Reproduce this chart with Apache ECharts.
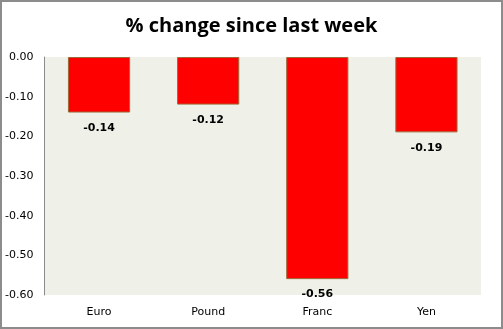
<!DOCTYPE html>
<html><head><meta charset="utf-8">
<script src="https://cdn.jsdelivr.net/npm/echarts@6/dist/echarts.min.js"></script>
<style>
html,body{margin:0;padding:0;background:#fff;}
#c{width:503px;height:329px;box-sizing:border-box;border:2px solid #8c8c8c;}
</style></head>
<body><div id="c"></div>
<script>
const categories = ["Euro", "Pound", "Franc", "Yen"];
const values = [-0.14, -0.12, -0.56, -0.19];
const titleText = "% change since last week";

const chart = echarts.init(document.getElementById('c'));
chart.setOption({
  animation: false,
  title: {
    text: titleText, left: 'center', top: 9,
    textStyle: { fontFamily: 'Open Sans', fontWeight: 'bold', fontSize: 20, color: '#000' }
  },
  grid: { left: 40, right: 20, top: 55, bottom: 32, show: true, backgroundColor: '#eff1e8', borderWidth: 0 },
  xAxis: {
    type: 'category', data: categories, position: 'bottom',
    axisLine: { show: false }, axisTick: { show: false },
    axisLabel: { fontFamily: 'DejaVu Sans', fontSize: 11, color: '#000', margin: 12 }
  },
  yAxis: {
    type: 'value', min: -0.6, max: 0, interval: 0.1,
    axisLine: { show: true, lineStyle: { color: '#8c8c8c', width: 1 } },
    axisTick: { show: false }, splitLine: { show: false },
    axisLabel: { fontFamily: 'DejaVu Sans', fontSize: 11, color: '#000', margin: 11,
      formatter: v => v.toFixed(2) }
  },
  series: [{
    type: 'bar', data: values, barWidth: '57%',
    itemStyle: { color: '#ff0000', borderColor: '#9c6b3c', borderWidth: 1 },
    label: { show: true, position: 'bottom', distance: 10, fontFamily: 'DejaVu Sans', fontWeight: 'bold', fontSize: 11, color: '#000',
      formatter: p => p.value.toFixed(2) }
  }]
});
</script></body></html>
